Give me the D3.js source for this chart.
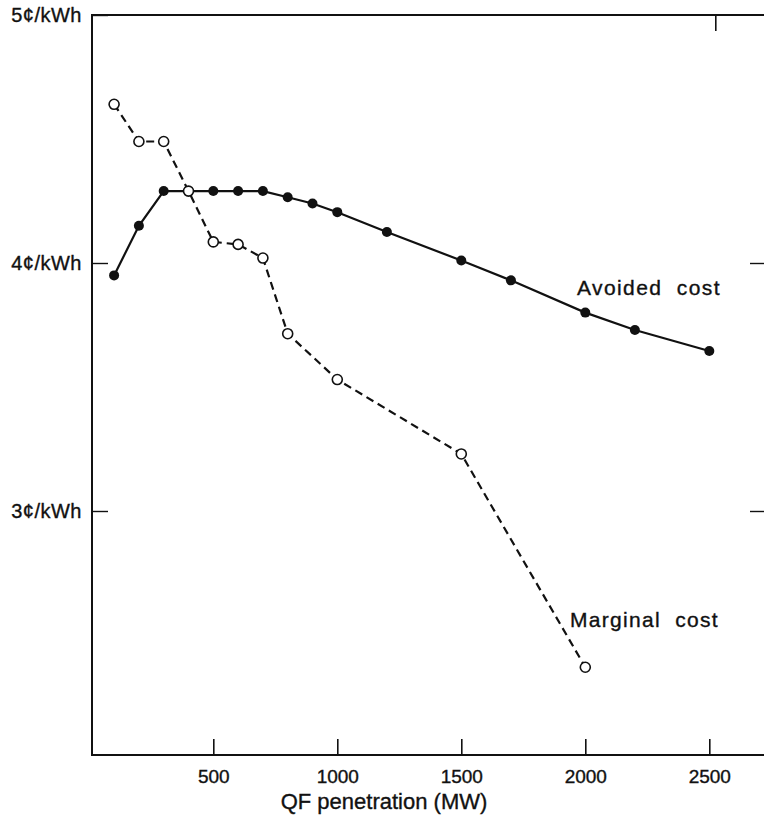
<!DOCTYPE html>
<html>
<head>
<meta charset="utf-8">
<script src="https://cdn.jsdelivr.net/npm/d3@7"></script>
<style>
  html, body { margin: 0; padding: 0; background: #fff; }
  svg { display: block; }
  text { font-family: "Liberation Sans", Arial, Helvetica, sans-serif; fill: #111; }
</style>
</head>
<body>
<svg id="chart" width="764" height="840"></svg>
<script>
// QF penetration (MW) at which each cost was evaluated
const avoidedMW   = [100, 200, 300, 400, 500, 600, 700, 800, 900, 1000, 1200, 1500, 1700, 2000, 2200, 2500];
const avoidedCost = [3.95, 4.15, 4.29, 4.29, 4.29, 4.29, 4.29, 4.265, 4.24, 4.205, 4.125, 4.01, 3.93, 3.80, 3.73, 3.645];

const marginalMW   = [100, 200, 300, 400, 500, 600, 700, 800, 1000, 1500, 2000];
const marginalCost = [4.64, 4.49, 4.49, 4.29, 4.085, 4.075, 4.02, 3.715, 3.53, 3.23, 2.37];

const xTicks = [500, 1000, 1500, 2000, 2500];
const yTicks = [3, 4, 5];
const yTickLabels = ["3¢/kWh", "4¢/kWh", "5¢/kWh"];

const svg = d3.select("#chart");
const ink = "#111";
const fontFamily = "'Liberation Sans', Arial, Helvetica, sans-serif";

// plot frame (right edge sits just past the page)
const frame = { left: 92, top: 15, right: 766, bottom: 755 };

const x = d3.scaleLinear().domain([0, 2500]).range([89.3, 709.3]);
const y = d3.scaleLinear().domain([3, 5]).range([511, 15]);

// heavier text, like the printed figure
function inked(sel) {
  return sel.attr("fill", ink).attr("stroke", ink).attr("stroke-width", 0.35)
    .style("font-family", fontFamily);
}

// frame lines
svg.append("path")
  .attr("d", `M${frame.right},${frame.top} H${frame.left} V${frame.bottom} H${frame.right}`)
  .attr("fill", "none").attr("stroke", ink).attr("stroke-width", 2);

// bottom axis: inward ticks and labels
const xAxis = d3.axisBottom(x).tickValues(xTicks).tickSizeInner(-16).tickSizeOuter(0)
  .tickPadding(15).tickFormat(d3.format("d"));
const gx = svg.append("g").attr("transform", `translate(0,${frame.bottom})`).call(xAxis);
gx.select(".domain").remove();
gx.selectAll(".tick line").attr("stroke", ink).attr("stroke-width", 1.6);
inked(gx.selectAll(".tick text").attr("font-size", 19));

// top axis: one inward tick
const gTop = svg.append("g").attr("transform", `translate(0,${frame.top})`)
  .call(d3.axisTop(x).tickValues([2500]).tickSizeInner(-16).tickSizeOuter(0).tickFormat(""));
gTop.select(".domain").remove();
gTop.selectAll(".tick line").attr("stroke", ink).attr("stroke-width", 1.6)
  .attr("transform", "translate(6,0)");

// left axis: inward ticks with ¢/kWh labels
const yAxis = d3.axisLeft(y).tickValues(yTicks).tickSizeInner(-16).tickSizeOuter(0).tickPadding(10)
  .tickFormat((d, i) => yTickLabels[i]);
const gy = svg.append("g").attr("transform", `translate(${frame.left},0)`).call(yAxis);
gy.select(".domain").remove();
gy.selectAll(".tick line").attr("stroke", ink).attr("stroke-width", 1.4);
inked(gy.selectAll(".tick text").attr("font-size", 20).attr("letter-spacing", 0.5));

// right axis: inward ticks only
const gr = svg.append("g").attr("transform", "translate(764,0)")
  .call(d3.axisRight(y).tickValues([3, 4]).tickSizeInner(-14).tickSizeOuter(0).tickFormat(""));
gr.select(".domain").remove();
gr.selectAll(".tick line").attr("stroke", ink).attr("stroke-width", 1.4);

// x axis title
inked(svg.append("text")
  .attr("x", 384).attr("y", 809)
  .attr("text-anchor", "middle")
  .attr("font-size", 22)
  .text("QF penetration (MW)"));

const line = d3.line().x(d => x(d[0])).y(d => y(d[1]));

const avoided = avoidedMW.map((m, i) => [m, avoidedCost[i]]);
const marginal = marginalMW.map((m, i) => [m, marginalCost[i]]);

// avoided cost: solid line, filled markers
svg.append("path").datum(avoided)
  .attr("d", line).attr("fill", "none").attr("stroke", ink).attr("stroke-width", 2.2);
svg.append("g").selectAll("circle").data(avoided).join("circle")
  .attr("cx", d => x(d[0])).attr("cy", d => y(d[1])).attr("r", 5)
  .attr("fill", ink);

// marginal cost: dashed line, open markers
svg.append("path").datum(marginal)
  .attr("d", line).attr("fill", "none").attr("stroke", ink).attr("stroke-width", 2.2)
  .attr("stroke-dasharray", "8,5");
svg.append("g").selectAll("circle").data(marginal).join("circle")
  .attr("cx", d => x(d[0])).attr("cy", d => y(d[1])).attr("r", 5)
  .attr("fill", "#fff").attr("stroke", ink).attr("stroke-width", 1.6);

// series labels
inked(svg.append("text")
  .attr("x", 577).attr("y", 295)
  .attr("font-size", 21).attr("letter-spacing", 1.4)
  .text("Avoided\u00a0\u00a0cost"));

inked(svg.append("text")
  .attr("x", 570).attr("y", 627)
  .attr("font-size", 21).attr("letter-spacing", 1.3)
  .text("Marginal\u00a0\u00a0cost"));
</script>
</body>
</html>
